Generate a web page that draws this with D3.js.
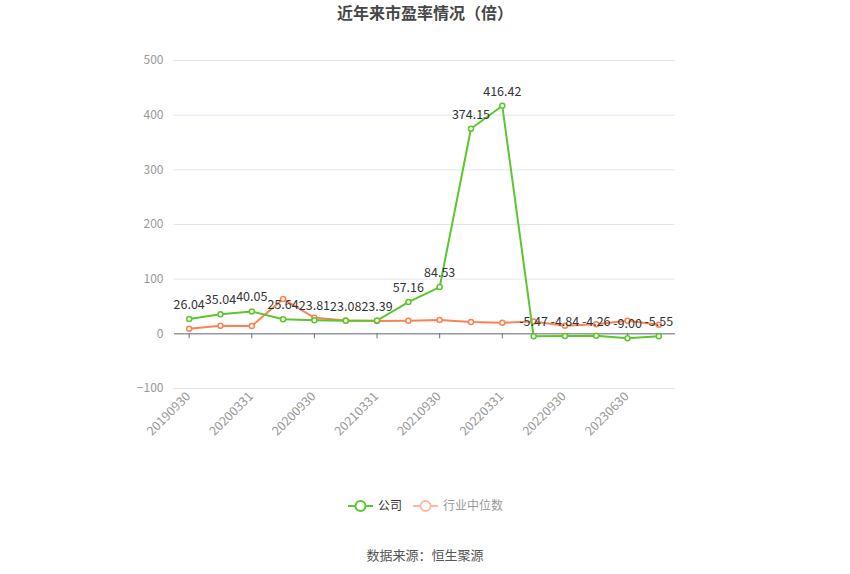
<!DOCTYPE html>
<html>
<head>
<meta charset="utf-8">
<script src="https://cdn.jsdelivr.net/npm/d3@7/dist/d3.min.js"></script>
<style>
  body { margin: 0; background: #fff; }
  text { font-family: "Noto Sans CJK SC", "Noto Sans", sans-serif; }
</style>
</head>
<body>
<svg id="chart" width="850" height="574"></svg>
<script>
// categories (report dates)
var dates = ["20190930", "20191231", "20200331", "20200630", "20200930", "20201231",
             "20210331", "20210630", "20210930", "20211231", "20220331", "20220630",
             "20220930", "20230331", "20230630", "20230930"];
// company P/E
var company = [26.04, 35.04, 40.05, 25.64, 23.81, 23.08, 23.39, 57.16, 84.53,
               374.15, 416.42, -5.47, -4.84, -4.26, -9.00, -5.55];
// industry median P/E
var industry = [8.5, 14, 13.5, 63, 28.5, 23.6, 22.4, 22.9, 24.2,
                20.6, 19.4, 21.8, 14, 16.4, 23, 15.8];
var yTicks = [-100, 0, 100, 200, 300, 400, 500];

var green = "#5cc62c", orange = "#fa8352";

var svg = d3.select("#chart");

var x = d3.scaleBand().domain(dates).range([173.5, 674.5]);
var y = d3.scaleLinear().domain([-100, 500]).range([388, 60]);
var cx = function(d, i) { return x(dates[i]) + x.bandwidth() / 2; };

// title
svg.append("text")
  .attr("x", 425).attr("y", 19)
  .attr("text-anchor", "middle")
  .attr("font-size", 16).attr("font-weight", "bold")
  .attr("fill", "#464646")
  .text("近年来市盈率情况（倍）");

// grid lines + y labels
var yAxis = d3.axisLeft(y).tickValues(yTicks).tickSize(-(674.5 - 173.5)).tickPadding(10);
svg.append("g")
  .attr("transform", "translate(173.5,0)")
  .call(yAxis)
  .call(function(g) {
    g.select(".domain").remove();
    g.selectAll(".tick line").attr("stroke", "#e0e6f1");
    g.selectAll(".tick text").attr("fill", "#999").attr("font-size", 12);
  });

// x axis on the zero line
var xAxis = d3.axisBottom(x)
  .tickValues(dates.filter(function(d, i) { return i % 2 === 0; }))
  .tickSize(5).tickSizeOuter(0);
svg.append("g")
  .attr("transform", "translate(0," + y(0) + ")")
  .call(xAxis)
  .call(function(g) {
    g.select(".domain").attr("stroke", "#6e7079");
    g.selectAll(".tick line").attr("stroke", "#6e7079");
    g.selectAll(".tick text").remove();
  });

// rotated x labels at the bottom
svg.append("g").selectAll("text")
  .data(dates.filter(function(d, i) { return i % 2 === 0; }))
  .enter().append("text")
    .attr("transform", function(d) {
      return "translate(" + (x(d) + x.bandwidth() / 2 - 1) + ",394) rotate(-45)";
    })
    .attr("text-anchor", "end")
    .attr("dy", "0.35em")
    .attr("font-size", 12.5)
    .attr("fill", "#999")
    .text(function(d) { return d; });

var line = d3.line().x(cx).y(function(d) { return y(d); });

function drawSeries(values, color) {
  svg.append("path")
    .datum(values)
    .attr("d", line)
    .attr("fill", "none")
    .attr("stroke", color)
    .attr("stroke-width", 2);
  svg.append("g").selectAll("circle")
    .data(values)
    .enter().append("circle")
      .attr("cx", cx)
      .attr("cy", function(d) { return y(d); })
      .attr("r", 2.5)
      .attr("fill", "#fff")
      .attr("stroke", color)
      .attr("stroke-width", 1.5);
}

drawSeries(industry, orange);
drawSeries(company, green);

// value labels for the company series
svg.append("g").selectAll("text")
  .data(company)
  .enter().append("text")
    .attr("x", cx)
    .attr("y", function(d) { return y(d) - 10; })
    .attr("text-anchor", "middle")
    .attr("font-size", 12.5)
    .attr("fill", "#333")
    .text(function(d) { return d.toFixed(2); });

// legend
var legend = [
  { name: "公司", color: green, text: "#333", x: 348 },
  { name: "行业中位数", color: "#fdb9a0", text: "#999", x: 413 }
];
var lg = svg.append("g").selectAll("g").data(legend).enter().append("g")
  .attr("transform", function(d) { return "translate(" + d.x + ",506)"; });
lg.append("line").attr("x1", 0).attr("x2", 25)
  .attr("stroke", function(d) { return d.color; }).attr("stroke-width", 2);
lg.append("circle").attr("cx", 12.5).attr("r", 5)
  .attr("fill", "#fff").attr("stroke", function(d) { return d.color; }).attr("stroke-width", 2);
lg.append("text").attr("x", 30).attr("dy", "0.35em")
  .attr("font-size", 12)
  .attr("fill", function(d) { return d.text; })
  .text(function(d) { return d.name; });

// source
svg.append("text")
  .attr("x", 425).attr("y", 560)
  .attr("text-anchor", "middle")
  .attr("font-size", 13)
  .attr("fill", "#555")
  .text("数据来源：恒生聚源");
</script>
</body>
</html>
